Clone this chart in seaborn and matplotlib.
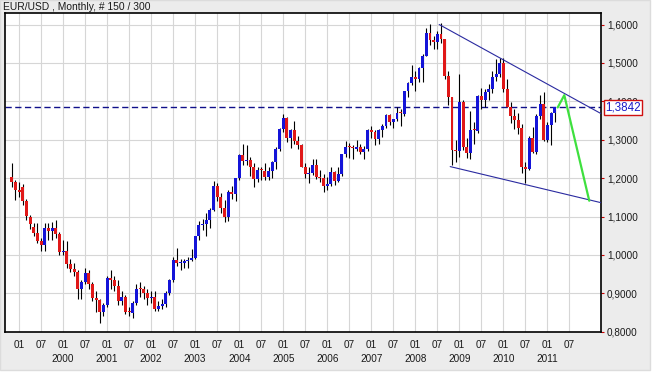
import numpy as np
import pandas as pd
import seaborn as sns
import matplotlib
matplotlib.use("Agg")
import matplotlib.pyplot as plt
import matplotlib.transforms as mtransforms
from matplotlib.patches import Rectangle

# -- EUR/USD monthly candles (Oct 1998 .. Feb 2011) --
opens = [1.203, 1.190, 1.169, 1.178, 1.140, 1.100, 1.072, 1.056, 1.035, 1.025,
         1.070, 1.062, 1.070, 1.055, 1.007, 1.010, 0.975, 0.962, 0.956, 0.912,
         0.930, 0.952, 0.925, 0.888, 0.882, 0.850, 0.870, 0.940, 0.935, 0.920,
         0.880, 0.890, 0.850, 0.848, 0.875, 0.912, 0.910, 0.900, 0.888, 0.890,
         0.860, 0.868, 0.872, 0.902, 0.934, 0.988, 0.978, 0.980, 0.985, 0.988,
         0.992, 1.048, 1.077, 1.080, 1.091, 1.116, 1.180, 1.150, 1.122, 1.099,
         1.165, 1.159, 1.199, 1.259, 1.245, 1.248, 1.230, 1.197, 1.220, 1.219,
         1.202, 1.218, 1.243, 1.275, 1.327, 1.356, 1.304, 1.325, 1.296, 1.287,
         1.230, 1.210, 1.213, 1.234, 1.203, 1.199, 1.179, 1.184, 1.215, 1.192,
         1.211, 1.262, 1.281, 1.279, 1.277, 1.281, 1.268, 1.275, 1.324, 1.320,
         1.302, 1.324, 1.335, 1.365, 1.345, 1.354, 1.369, 1.366, 1.426, 1.448,
         1.464, 1.459, 1.486, 1.518, 1.579, 1.560, 1.555, 1.576, 1.561, 1.467,
         1.410, 1.274, 1.270, 1.397, 1.280, 1.266, 1.325, 1.323, 1.415, 1.403,
         1.425, 1.433, 1.464, 1.472, 1.500, 1.432, 1.386, 1.363, 1.351, 1.330,
         1.229, 1.223, 1.305, 1.268, 1.363, 1.393, 1.298, 1.338, 1.369]
highs = [1.239, 1.195, 1.190, 1.185, 1.145, 1.105, 1.083, 1.083, 1.045, 1.083,
         1.083, 1.085, 1.090, 1.060, 1.040, 1.035, 0.990, 0.980, 0.960, 0.935,
         0.965, 0.960, 0.930, 0.905, 0.885, 0.875, 0.945, 0.960, 0.945, 0.935,
         0.905, 0.895, 0.865, 0.880, 0.925, 0.930, 0.920, 0.910, 0.905, 0.905,
         0.880, 0.885, 0.905, 0.938, 0.995, 1.019, 0.990, 0.990, 0.995, 1.015,
         1.050, 1.088, 1.093, 1.108, 1.123, 1.193, 1.188, 1.162, 1.142, 1.168,
         1.180, 1.200, 1.263, 1.290, 1.285, 1.255, 1.240, 1.228, 1.229, 1.240,
         1.230, 1.245, 1.281, 1.330, 1.367, 1.358, 1.327, 1.349, 1.310, 1.290,
         1.240, 1.230, 1.250, 1.250, 1.220, 1.210, 1.204, 1.230, 1.218, 1.228,
         1.264, 1.296, 1.292, 1.287, 1.298, 1.290, 1.283, 1.327, 1.337, 1.325,
         1.327, 1.340, 1.368, 1.368, 1.354, 1.384, 1.380, 1.427, 1.450, 1.494,
         1.478, 1.490, 1.524, 1.590, 1.602, 1.571, 1.582, 1.604, 1.563, 1.478,
         1.412, 1.300, 1.472, 1.404, 1.304, 1.374, 1.346, 1.417, 1.434, 1.432,
         1.446, 1.478, 1.509, 1.514, 1.512, 1.458, 1.397, 1.380, 1.370, 1.340,
         1.243, 1.310, 1.333, 1.367, 1.416, 1.425, 1.347, 1.372, 1.380]
lows = [1.176, 1.143, 1.150, 1.130, 1.090, 1.068, 1.050, 1.030, 1.010, 1.010,
        1.040, 1.040, 1.045, 1.000, 1.000, 0.965, 0.955, 0.945, 0.885, 0.885,
        0.925, 0.910, 0.880, 0.850, 0.823, 0.840, 0.865, 0.910, 0.905, 0.870,
        0.870, 0.845, 0.840, 0.836, 0.870, 0.890, 0.885, 0.870, 0.875, 0.855,
        0.855, 0.860, 0.865, 0.895, 0.930, 0.970, 0.960, 0.965, 0.965, 0.985,
        0.990, 1.040, 1.066, 1.050, 1.070, 1.115, 1.140, 1.110, 1.085, 1.088,
        1.145, 1.140, 1.195, 1.235, 1.235, 1.205, 1.176, 1.190, 1.195, 1.196,
        1.195, 1.200, 1.225, 1.270, 1.320, 1.295, 1.279, 1.288, 1.275, 1.230,
        1.199, 1.187, 1.209, 1.198, 1.190, 1.164, 1.170, 1.180, 1.183, 1.190,
        1.205, 1.255, 1.252, 1.250, 1.270, 1.262, 1.250, 1.270, 1.305, 1.286,
        1.290, 1.307, 1.330, 1.338, 1.330, 1.350, 1.337, 1.362, 1.410, 1.443,
        1.427, 1.450, 1.451, 1.518, 1.547, 1.536, 1.535, 1.551, 1.458, 1.390,
        1.233, 1.243, 1.256, 1.274, 1.252, 1.250, 1.288, 1.317, 1.380, 1.385,
        1.404, 1.421, 1.452, 1.464, 1.424, 1.385, 1.343, 1.329, 1.314, 1.214,
        1.188, 1.220, 1.266, 1.263, 1.354, 1.297, 1.295, 1.287, 1.345]
closes = [1.190, 1.169, 1.165, 1.140, 1.102, 1.080, 1.056, 1.035, 1.025, 1.070,
          1.062, 1.070, 1.055, 1.007, 1.010, 0.975, 0.962, 0.956, 0.912, 0.930,
          0.952, 0.925, 0.888, 0.882, 0.850, 0.870, 0.940, 0.935, 0.920, 0.880,
          0.890, 0.850, 0.848, 0.875, 0.912, 0.910, 0.900, 0.888, 0.890, 0.860,
          0.868, 0.872, 0.902, 0.934, 0.988, 0.978, 0.980, 0.985, 0.988, 0.992,
          1.048, 1.077, 1.080, 1.091, 1.116, 1.180, 1.150, 1.122, 1.099, 1.165,
          1.159, 1.199, 1.259, 1.245, 1.248, 1.230, 1.197, 1.220, 1.219, 1.202,
          1.218, 1.243, 1.275, 1.327, 1.356, 1.304, 1.325, 1.296, 1.287, 1.230,
          1.210, 1.213, 1.234, 1.203, 1.199, 1.179, 1.184, 1.215, 1.192, 1.211,
          1.262, 1.281, 1.279, 1.277, 1.281, 1.268, 1.275, 1.324, 1.320, 1.302,
          1.324, 1.335, 1.365, 1.345, 1.354, 1.369, 1.366, 1.426, 1.448, 1.464,
          1.459, 1.486, 1.518, 1.579, 1.560, 1.555, 1.576, 1.561, 1.467, 1.410,
          1.274, 1.270, 1.397, 1.280, 1.266, 1.325, 1.323, 1.415, 1.403, 1.425,
          1.433, 1.464, 1.472, 1.500, 1.432, 1.386, 1.363, 1.351, 1.330, 1.229,
          1.223, 1.305, 1.268, 1.363, 1.393, 1.298, 1.338, 1.369, 1.384]

# axis labels (ticks every 6 bars, the first one is Jan 1999)
month_labels = ["01", "07"]
year_labels = ["", "2000", "2001", "2002", "2003", "2004", "2005",
               "2006", "2007", "2008", "2009", "2010", "2011"]
price_ticks = [0.8, 0.9, 1.0, 1.1, 1.2, 1.3, 1.4, 1.5, 1.6]
last_price = 1.3842

# drawn lines (bar index, price)
upper_x = [116.5, 160.6]
upper_y = [1.600, 1.368]
lower_x = [119.5, 160.6]
lower_y = [1.230, 1.136]
proj_x = [148.8, 150.6, 157.4]
proj_y = [1.384, 1.416, 1.141]

df = pd.DataFrame({"open": opens, "high": highs, "low": lows, "close": closes})
df["bar"] = np.arange(len(df))
df["up"] = df["close"] >= df["open"]

sns.set_style("white")
plt.rcParams["font.family"] = ["Liberation Sans", "DejaVu Sans"]

fig = plt.figure(figsize=(6.55, 3.75), dpi=100, facecolor="white")
fig.add_artist(Rectangle((0, 5 / 375), 650 / 655, 370 / 375, transform=fig.transFigure,
                         facecolor="#ececec", edgecolor="#dcdcdc", lw=1, zorder=-5))
ax = fig.add_axes([5 / 655, 43 / 375, 596 / 655, 319 / 375])
ax.set_facecolor("white")

# candles
ax.vlines(df["bar"], df["low"], df["high"], color="black", lw=0.8, zorder=3)
body = (df["close"] - df["open"]).where((df["close"] - df["open"]).abs() > 0.003,
                                        0.003)
ax.bar(df["bar"], body, bottom=df["open"], width=0.8,
       color=np.where(df["up"], "#1414d8", "#e01818"), lw=0, zorder=4)

# current price
ax.axhline(last_price, color="#10108a", lw=1, dashes=(4.5, 2.5), zorder=2)

# channel and projection
sns.lineplot(x=upper_x, y=upper_y, ax=ax, color="#2a2aa0", lw=0.8, zorder=5)
sns.lineplot(x=lower_x, y=lower_y, ax=ax, color="#2a2aa0", lw=0.8, zorder=5)
sns.lineplot(x=proj_x, y=proj_y, ax=ax, color="#3ee03e", lw=1.6, sort=False, zorder=6)

ax.set_xlim(-1.83, 160.6)
ax.set_ylim(0.7992, 1.630)

# x axis
xt = list(range(2, 153, 6))
xl = []
for i, t in enumerate(xt):
    if i % 2 == 0:
        y = year_labels[i // 2]
        xl.append(month_labels[0] + ("\n" + y if y else ""))
    else:
        xl.append(month_labels[1])
ax.set_xticks(xt)
ax.set_xticklabels(xl, linespacing=1.45, va="top")
ax.tick_params(axis="x", direction="out", length=2.2, width=0.8, pad=3.5,
               color="#cc0000", labelcolor="#1a1a1a", labelsize=7.2)

# y axis on the right
ax.yaxis.tick_right()
ax.set_yticks(price_ticks)
ax.set_yticklabels([f"{p:.4f}".replace(".", ",") for p in price_ticks])
ax.tick_params(axis="y", direction="out", length=2.2, width=0.8, pad=2,
               color="#cc0000", labelcolor="#1a1a1a", labelsize=7.2)

ax.grid(True, color="#d6d6d6", lw=0.8)
ax.set_axisbelow(True)
for s in ax.spines.values():
    s.set_visible(True)
    s.set_color("black")
    s.set_linewidth(1.2)

# price tag on the right axis
tag_tr = mtransforms.offset_copy(
    mtransforms.blended_transform_factory(ax.transAxes, ax.transData),
    fig=fig, x=4, y=0, units="dots")
ax.text(1.0, last_price, "1,3842", transform=tag_tr, ha="left", va="center",
        fontsize=8.4, color="#1a1ac8", clip_on=False, zorder=10,
        bbox=dict(boxstyle="square,pad=0.12", fc="white", ec="#d01010", lw=1))

fig.text(3 / 655, 1 - 6.5 / 375, "EUR/USD , Monthly, # 150 / 300", ha="left",
         va="center", fontsize=7.4, color="#1a1a1a")

fig.savefig("out.png", dpi=100, facecolor=fig.get_facecolor())
